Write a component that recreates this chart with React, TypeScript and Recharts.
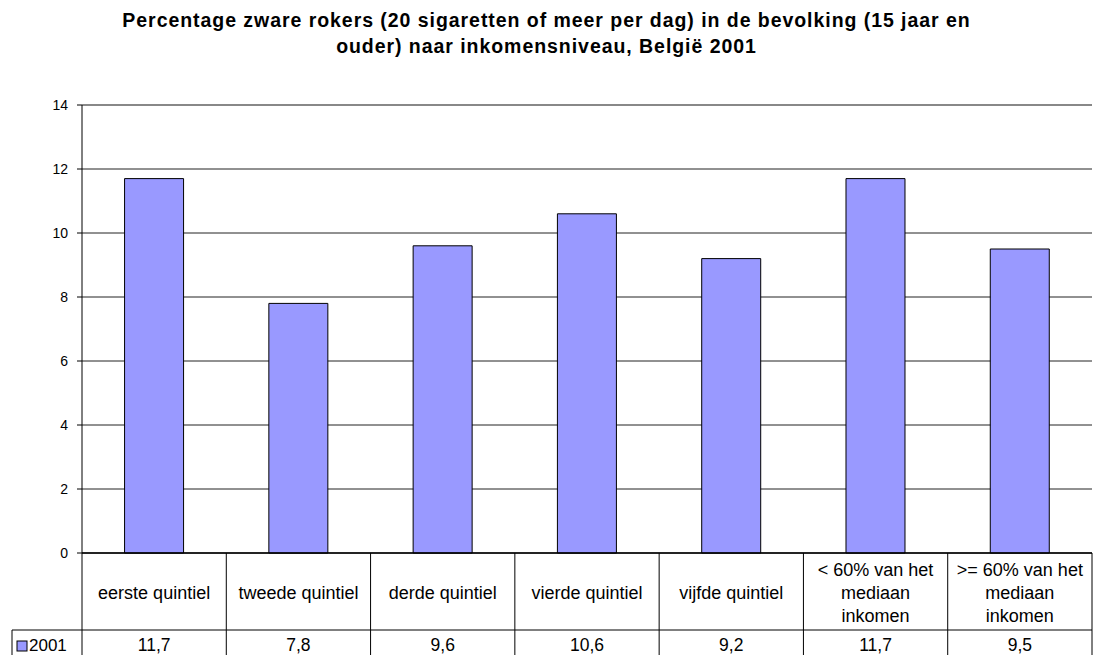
import React from 'react';
import { BarChart, Bar, XAxis, YAxis, CartesianGrid, ReferenceLine } from 'recharts';

const categories = [
  'eerste quintiel',
  'tweede quintiel',
  'derde quintiel',
  'vierde quintiel',
  'vijfde quintiel',
  '< 60% van het mediaan inkomen',
  '>= 60% van het mediaan inkomen',
];
const categoryLines = [
  ['eerste quintiel'],
  ['tweede quintiel'],
  ['derde quintiel'],
  ['vierde quintiel'],
  ['vijfde quintiel'],
  ['< 60% van het', 'mediaan', 'inkomen'],
  ['>= 60% van het', 'mediaan', 'inkomen'],
];
const values2001 = [11.7, 7.8, 9.6, 10.6, 9.2, 11.7, 9.5];
const yTicks = [0, 2, 4, 6, 8, 10, 12, 14];
const seriesName = '2001';
const titleLines = [
  'Percentage zware rokers (20 sigaretten of meer per dag) in de bevolking (15 jaar en',
  'ouder) naar inkomensniveau, België 2001',
];

const data = categories.map((c, i) => ({ name: c, value: values2001[i] }));

const FONT = 'Arial, "Liberation Sans", sans-serif';
const BAR_FILL = '#9999FF';

const fmt = (v: number) => v.toFixed(1).replace('.', ',');

function TableTick(props: any) {
  const { x, y, payload } = props;
  const idx = payload.index;
  const half = payload.offset || 72;
  const lines = categoryLines[idx] || [payload.value];
  const rowY = y + 77;
  const lineGap = 23;
  const centerY = y + 40;
  const startY = centerY - ((lines.length - 1) * lineGap) / 2;
  return (
    <g>
      <line x1={x - half} y1={y} x2={x - half} y2={y + 110} stroke="#000" strokeWidth={1} />
      {idx === categories.length - 1 && (
        <line x1={x + half} y1={y} x2={x + half} y2={y + 110} stroke="#000" strokeWidth={1} />
      )}
      <line x1={x - half} y1={rowY} x2={x + half} y2={rowY} stroke="#000" strokeWidth={1} />
      {lines.map((l: string, i: number) => (
        <text
          key={i}
          x={x}
          y={startY + i * lineGap}
          textAnchor="middle"
          dominantBaseline="central"
          fontSize={18}
          fontFamily={FONT}
          fill="#000"
        >
          {l}
        </text>
      ))}
      <text
        x={x}
        y={rowY + 15}
        textAnchor="middle"
        dominantBaseline="central"
        fontSize={17.5}
        fontFamily={FONT}
        fill="#000"
      >
        {fmt(values2001[idx])}
      </text>
      {idx === 0 && (
        <g>
          <line x1={x - half - 70} y1={rowY} x2={x - half} y2={rowY} stroke="#000" strokeWidth={1} />
          <line x1={x - half - 70} y1={rowY} x2={x - half - 70} y2={rowY + 30} stroke="#000" strokeWidth={1} />
          <rect x={x - half - 65} y={rowY + 11} width={10} height={10} fill={BAR_FILL} stroke="#000" strokeWidth={1} />
          <text
            x={x - half - 53}
            y={rowY + 15}
            dominantBaseline="central"
            fontSize={17}
            fontFamily={FONT}
            fill="#000"
          >
            {seriesName}
          </text>
        </g>
      )}
    </g>
  );
}

export default function App() {
  return (
    <div style={{ position: 'absolute', left: 0, top: 0, width: 1093, height: 655, background: '#fff', overflow: 'hidden' }}>
      <div
        style={{
          position: 'absolute',
          left: 0,
          top: 7,
          width: 1093,
          textAlign: 'center',
          fontFamily: FONT,
          fontWeight: 'bold',
          fontSize: 19.5,
          letterSpacing: '0.95px',
          lineHeight: '26px',
          color: '#000',
        }}
      >
        {titleLines.map((t, i) => (
          <div key={i}>{t}</div>
        ))}
      </div>
      <BarChart
        width={1093}
        height={655}
        data={data}
        margin={{ top: 105, right: 1, bottom: 0, left: 0 }}
        barCategoryGap="29.5%"
      >
        <CartesianGrid vertical={false} stroke="#222" strokeDasharray="" />
        <ReferenceLine y={14} stroke="#888" strokeWidth={2} />
        <XAxis
          dataKey="name"
          height={102}
          tickLine={false}
          tickSize={0}
          tickMargin={0}
          axisLine={{ stroke: '#000', strokeWidth: 1.5 }}
          tick={<TableTick />}
          interval={0}
        />
        <YAxis
          width={82}
          domain={[0, 14]}
          ticks={yTicks}
          interval={0}
          tickSize={5}
          tickMargin={9}
          axisLine={{ stroke: '#000' }}
          tickLine={{ stroke: '#000' }}
          tick={{ fontSize: 14, fontFamily: FONT, fill: '#000' }}
        />
        <Bar dataKey="value" fill={BAR_FILL} stroke="#000" strokeWidth={1} isAnimationActive={false} />
      </BarChart>
    </div>
  );
}
